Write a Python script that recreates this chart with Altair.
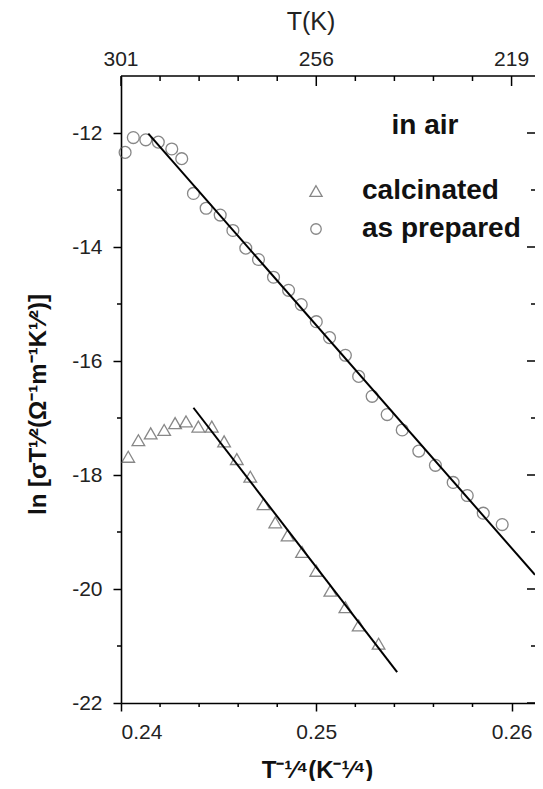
import altair as alt
import pandas as pd

# ---- data ----
prep_x = [0.24021, 0.24063, 0.24127, 0.24191, 0.24260, 0.24311, 0.24371, 0.24436,
          0.24508, 0.24573, 0.24639, 0.24704, 0.24781, 0.24858, 0.24923, 0.25000,
          0.25068, 0.25149, 0.25217, 0.25286, 0.25363, 0.25440, 0.25525, 0.25610,
          0.25701, 0.25773, 0.25855, 0.25952]
prep_y = [-12.34, -12.08, -12.12, -12.16, -12.28, -12.45, -13.06, -13.32,
          -13.44, -13.71, -14.02, -14.22, -14.53, -14.76, -15.01, -15.31,
          -15.59, -15.90, -16.27, -16.62, -16.94, -17.21, -17.58, -17.83,
          -18.13, -18.36, -18.67, -18.87]
calc_x = [0.24037, 0.24089, 0.24152, 0.24221, 0.24277, 0.24333, 0.24396, 0.24465,
          0.24528, 0.24593, 0.24662, 0.24730, 0.24790, 0.24853, 0.24927, 0.25000,
          0.25072, 0.25149, 0.25217, 0.25319]
calc_y = [-17.68, -17.39, -17.27, -17.21, -17.09, -17.06, -17.15, -17.15,
          -17.41, -17.72, -18.03, -18.51, -18.83, -19.06, -19.35, -19.68,
          -20.03, -20.32, -20.64, -20.96]
prep_fit_x = [0.2414, 0.2612]
prep_fit_y = [-12.01, -19.75]
calc_fit_x = [0.24371, 0.25414]
calc_fit_y = [-16.82, -21.46]

x_major = [0.24, 0.25, 0.26]
x_minor = [0.242, 0.244, 0.246, 0.248, 0.252, 0.254, 0.256, 0.258]
top_labels = ["301", "256", "219"]
y_major = [-22, -20, -18, -16, -14, -12]
y_minor = [-21, -19, -17, -15, -13]

W, H = 414, 627
FONT = "Liberation Sans"

xscale = alt.Scale(domain=[0.24, 0.2612], nice=False, zero=False)
yscale = alt.Scale(domain=[-22, -11], nice=False, zero=False)

xaxis = alt.Axis(values=x_major, format=".2f", labelFontSize=21, labelFont=FONT,
                 labelColor="#222", labelPadding=10, tickSize=8, tickWidth=1.5,
                 tickColor="black", domainColor="black", domainWidth=1.6, grid=False,
                 title="T⁻¹⁄⁴(K⁻¹⁄⁴)", titleFont=FONT, titleFontSize=24,
                 titleFontWeight="bold", titleColor="#111", titleX=196, titleY=67,
                 titleBaseline="middle", titleAlign="center")
yaxis = alt.Axis(values=y_major, labelFontSize=21, labelFont=FONT, labelColor="#222",
                 labelExpr="replace(datum.label, '\u2212', '-')",
                 labelPadding=11, tickSize=8, tickWidth=1.5, tickColor="black",
                 domainColor="black", domainWidth=1.6, grid=False,
                 title="ln [σT¹⁄²(Ω⁻¹m⁻¹K¹⁄²)]", titleFont=FONT, titleFontSize=24,
                 titleFontWeight="bold", titleColor="#111", titleAngle=270,
                 titleX=-83, titleY=328, titleAlign="center", titleBaseline="middle")

X = lambda: alt.X("x:Q", scale=xscale, axis=xaxis)
Y = lambda: alt.Y("y:Q", scale=yscale, axis=yaxis)

prep_df = pd.DataFrame({"x": prep_x, "y": prep_y})
calc_df = pd.DataFrame({"x": calc_x, "y": calc_y})
fit_df = pd.DataFrame({
    "x": prep_fit_x + calc_fit_x,
    "y": prep_fit_y + calc_fit_y,
    "s": ["prep"] * len(prep_fit_x) + ["calc"] * len(calc_fit_x),
})

circles = alt.Chart(prep_df).mark_point(shape="circle", filled=False, size=140,
                                        stroke="#555", strokeWidth=1.3).encode(x=X(), y=Y())
triangles = alt.Chart(calc_df).mark_point(shape="triangle-up", filled=False, size=160,
                                          stroke="#555", strokeWidth=1.3).encode(x=X(), y=Y())
fits = alt.Chart(fit_df).mark_line(color="black", strokeWidth=2).encode(
    x=X(), y=Y(), detail="s:N")

xminor_df = pd.DataFrame({"x": x_minor})
yminor_df = pd.DataFrame({"y": y_minor})
ymajor_df = pd.DataFrame({"y": y_major})

bottom_minor = alt.Chart(xminor_df).mark_rule(color="black", strokeWidth=1.5).encode(
    x=X(), y=alt.value(H), y2=alt.value(H + 4))
left_minor = alt.Chart(yminor_df).mark_rule(color="black", strokeWidth=1.5).encode(
    y=Y(), x=alt.value(-4), x2=alt.value(0))
top_major = alt.Chart(pd.DataFrame({"x": x_major})).mark_rule(color="black", strokeWidth=1.5).encode(
    x=X(), y=alt.value(0), y2=alt.value(10))
top_minor = alt.Chart(xminor_df).mark_rule(color="black", strokeWidth=1.5).encode(
    x=X(), y=alt.value(0), y2=alt.value(5))
right_major = alt.Chart(ymajor_df).mark_rule(color="black", strokeWidth=1.5).encode(
    y=Y(), x=alt.value(W - 8), x2=alt.value(W))
right_minor = alt.Chart(yminor_df).mark_rule(color="black", strokeWidth=1.5).encode(
    y=Y(), x=alt.value(W - 4), x2=alt.value(W))
top_line = alt.Chart(pd.DataFrame({"a": [0]})).mark_rule(color="black", strokeWidth=1.6).encode(
    x=alt.value(0), x2=alt.value(W), y=alt.value(0))

top_lab = alt.Chart(pd.DataFrame({"x": x_major, "t": top_labels})).mark_text(
    font=FONT, fontSize=21, color="#222", baseline="middle", align="center").encode(
    x=X(), y=alt.value(-16), text="t:N")
tk_title = alt.Chart(pd.DataFrame({"t": ["T(K)"]})).mark_text(
    font=FONT, fontSize=25, color="#222", baseline="middle", align="center").encode(
    x=alt.value(190), y=alt.value(-54), text="t:N")

legend_head = alt.Chart(pd.DataFrame({"t": ["in air"]})).mark_text(
    font=FONT, fontSize=28, fontWeight="bold", color="#111", baseline="middle",
    align="center").encode(x=alt.value(304), y=alt.value(50), text="t:N")
legend_text = alt.Chart(pd.DataFrame({
    "t": ["calcinated", "as prepared"],
    "py": [115, 153],
})).mark_text(font=FONT, fontSize=28, fontWeight="bold", color="#111",
              baseline="middle", align="left").encode(
    x=alt.value(241), y=alt.Y("py:Q", scale=None), text="t:N")
leg_tri = alt.Chart(pd.DataFrame({"a": [0]})).mark_point(
    shape="triangle-up", filled=False, size=150, stroke="#555", strokeWidth=1.3).encode(
    x=alt.value(195), y=alt.value(115))
leg_circ = alt.Chart(pd.DataFrame({"a": [0]})).mark_point(
    shape="circle", filled=False, size=110, stroke="#555", strokeWidth=1.3).encode(
    x=alt.value(195), y=alt.value(153))

chart = alt.layer(
    circles, triangles, fits, bottom_minor, left_minor, top_major, top_minor,
    right_major, right_minor, top_line, top_lab, tk_title, legend_head, legend_text,
    leg_tri, leg_circ
).properties(
    width=W, height=H,
    autosize=alt.AutoSizeParams(type="none"),
    padding={"left": 113, "top": 68, "right": 0, "bottom": 78},
).configure_view(stroke=None)

chart.save("out.html", embed_options={"renderer": "svg", "actions": False})
